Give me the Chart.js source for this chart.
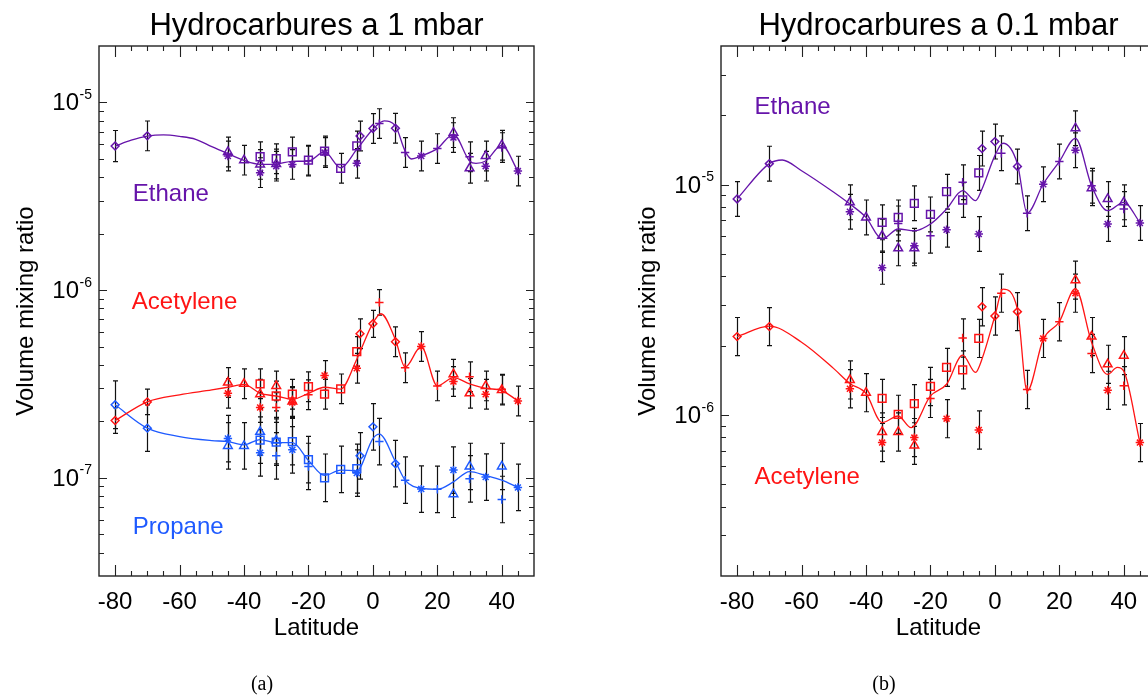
<!DOCTYPE html>
<html><head><meta charset="utf-8">
<script src="https://cdn.jsdelivr.net/npm/chart.js@4.4.0/dist/chart.umd.min.js"></script>
<style>
html,body{margin:0;padding:0;overflow:hidden;background:#fff;width:1148px;height:696px;position:relative;}
.panel{position:absolute;top:0;width:633px;height:696px;}
.cap{position:absolute;font-family:'Liberation Serif','DejaVu Serif',serif;font-size:20px;color:#000;transform:translateX(-50%);top:672px;}
</style></head><body>
<div class="panel" style="left:0"><canvas id="c1" width="633" height="696"></canvas></div>
<div class="panel" style="left:622px"><canvas id="c2" width="633" height="696"></canvas></div>
<div class="cap" style="left:262px">(a)</div>
<div class="cap" style="left:884px">(b)</div>
<script>
// ---------- DATA ----------
const xTickValues = [-80, -60, -40, -20, 0, 20, 40];

// Panel (a): 1 mbar
const latEthane1 = [-80,-70,-45,-45,-40,-35,-35,-35,-30,-30,-30,-25,-25,-20,-20,-15,-15,-10,-5,-5,-4,0,2,7,10,15,20,25,25,30,30,35,35,40,40,45];
const valEthane1 = [5.86e-6,6.64e-6,5.45e-6,5.19e-6,4.93e-6,5.14e-6,4.68e-6,4.23e-6,5.02e-6,4.70e-6,4.58e-6,5.45e-6,4.68e-6,4.93e-6,4.88e-6,5.51e-6,5.41e-6,4.46e-6,5.87e-6,4.74e-6,6.63e-6,7.27e-6,7.72e-6,7.29e-6,5.41e-6,5.19e-6,5.68e-6,6.91e-6,6.50e-6,4.46e-6,5.14e-6,5.19e-6,4.58e-6,5.92e-6,5.75e-6,4.31e-6];
const errEthane1 = [0.21,0.2,0.2,0.2,0.2,0.2,0.2,0.2,0.2,0.2,0.2,0.2,0.2,0.2,0.2,0.2,0.2,0.2,0.2,0.2,0.2,0.2,0.2,0.2,0.2,0.2,0.2,0.2,0.2,0.2,0.2,0.2,0.2,0.2,0.2,0.2];
const symEthane1 = ['d','d','t','a','t','s','t','a','s','t','a','s','a','s','p','s','a','s','s','a','d','d','p','d','p','a','p','t','a','t','p','t','a','t','p','a'];
const curveLatEthane1 = [-80,-75,-70,-65,-60,-55,-50,-45,-40,-35,-30,-25,-20,-15,-10,-5,0,3.5,7,10,12,15,20,25,30,32,35,40,45];
const curveValEthane1 = [5.86e-6,6.3e-6,6.62e-6,6.72e-6,6.6e-6,6.37e-6,5.82e-6,5.34e-6,4.91e-6,4.68e-6,4.70e-6,4.86e-6,4.88e-6,5.45e-6,4.49e-6,5.63e-6,7.2e-6,7.98e-6,7.5e-6,5.51e-6,5.0e-6,5.19e-6,5.68e-6,6.77e-6,4.88e-6,4.74e-6,4.88e-6,5.91e-6,4.31e-6];

const latAcet1 = [-80,-70,-45,-45,-40,-35,-35,-35,-30,-30,-30,-25,-25,-25,-20,-20,-15,-15,-10,-5,-5,-4,0,2,7,10,15,20,25,25,30,30,35,35,40,40,45];
const valAcet1 = [2.02e-7,2.54e-7,3.22e-7,2.82e-7,3.17e-7,3.17e-7,2.79e-7,2.37e-7,3.09e-7,2.73e-7,2.37e-7,2.79e-7,2.55e-7,2.52e-7,3.06e-7,2.77e-7,3.51e-7,2.79e-7,2.98e-7,3.84e-7,4.71e-7,5.86e-7,6.62e-7,8.61e-7,5.31e-7,3.86e-7,5.01e-7,3.09e-7,3.57e-7,3.26e-7,3.46e-7,2.82e-7,3.09e-7,2.79e-7,2.94e-7,2.97e-7,2.57e-7];
const errAcet1 = [0.17,0.17,0.2,0.2,0.2,0.2,0.2,0.2,0.2,0.2,0.2,0.2,0.2,0.2,0.2,0.2,0.2,0.2,0.2,0.2,0.2,0.2,0.18,0.17,0.2,0.2,0.2,0.2,0.2,0.2,0.2,0.2,0.2,0.2,0.2,0.2,0.2];
const symAcet1 = ['d','d','t','a','t','s','t','a','t','s','p','s','t','a','s','p','a','s','s','a','s','d','d','p','d','p','a','p','t','a','p','t','t','a','t','p','a'];
const curveLatAcet1 = [-80,-70,-60,-50,-45,-40,-35,-30,-25,-20,-15,-10,-5,0,2.5,7,10,15,20,25,30,35,40,45];
const curveValAcet1 = [2.02e-7,2.54e-7,2.77e-7,2.94e-7,3.04e-7,3.15e-7,2.82e-7,2.73e-7,2.62e-7,2.82e-7,3.04e-7,2.97e-7,4.29e-7,6.68e-7,7.49e-7,5.44e-7,3.89e-7,5.01e-7,3.09e-7,3.42e-7,3.17e-7,3.0e-7,2.92e-7,2.57e-7];

const latProp1 = [-80,-70,-45,-45,-40,-35,-35,-35,-30,-30,-30,-25,-25,-20,-20,-15,-10,-5,-5,-4,0,2,7,10,15,20,25,25,30,30,35,40,40,45];
const valProp1 = [2.45e-7,1.84e-7,1.62e-7,1.48e-7,1.48e-7,1.76e-7,1.59e-7,1.36e-7,1.58e-7,1.55e-7,1.31e-7,1.56e-7,1.41e-7,1.25e-7,1.15e-7,1.00e-7,1.11e-7,1.12e-7,1.06e-7,1.31e-7,1.87e-7,1.56e-7,1.19e-7,9.72e-8,8.71e-8,8.69e-8,1.10e-7,8.18e-8,1.15e-7,9.88e-8,1.01e-7,1.15e-7,7.67e-8,8.89e-8];
const errProp1 = [0.34,0.33,0.33,0.33,0.33,0.33,0.33,0.33,0.33,0.33,0.33,0.33,0.33,0.33,0.33,0.34,0.33,0.35,0.33,0.33,0.33,0.33,0.33,0.33,0.33,0.33,0.33,0.33,0.33,0.33,0.33,0.33,0.33,0.33];
const symProp1 = ['d','d','a','t','t','t','s','a','t','s','p','s','a','s','p','s','s','s','a','d','d','p','d','p','a','p','a','t','t','p','a','t','p','a'];
const curveLatProp1 = [-80,-70,-60,-50,-45,-40,-35,-30,-25,-20,-15,-10,-5,0,2,7,10,15,20,25,30,35,40,45];
const curveValProp1 = [2.45e-7,1.84e-7,1.66e-7,1.58e-7,1.56e-7,1.50e-7,1.60e-7,1.54e-7,1.54e-7,1.24e-7,1.03e-7,1.10e-7,1.09e-7,1.62e-7,1.71e-7,1.22e-7,9.72e-8,8.78e-8,8.69e-8,9.52e-8,1.08e-7,1.03e-7,9.72e-8,8.89e-8];

// Panel (b): 0.1 mbar
const latEthane2 = [-80,-70,-45,-45,-40,-35,-35,-35,-30,-30,-30,-25,-25,-25,-20,-20,-15,-15,-10,-10,-5,-5,-4,0,2,7,10,15,20,25,25,30,30,35,35,40,40,45];
const valEthane2 = [8.67e-6,1.234e-5,8.38e-6,7.63e-6,7.21e-6,6.86e-6,6.00e-6,4.36e-6,7.21e-6,6.79e-6,5.29e-6,8.30e-6,5.43e-6,5.29e-6,7.43e-6,6.00e-6,9.32e-6,6.37e-6,8.58e-6,1.024e-5,1.125e-5,6.11e-6,1.434e-5,1.538e-5,1.37e-5,1.20e-5,7.51e-6,1.004e-5,1.26e-5,1.758e-5,1.41e-5,9.65e-6,9.9e-6,8.67e-6,6.75e-6,8.38e-6,7.84e-6,6.82e-6];
const errEthane2 = [0.19,0.19,0.19,0.19,0.19,0.19,0.18,0.18,0.19,0.19,0.19,0.19,0.19,0.19,0.19,0.19,0.19,0.19,0.19,0.19,0.19,0.19,0.19,0.19,0.19,0.19,0.19,0.19,0.19,0.19,0.19,0.19,0.19,0.19,0.19,0.19,0.19,0.19];
const symEthane2 = ['d','d','t','a','t','s','t','a','s','p','t','s','a','t','s','p','s','a','s','p','s','a','d','d','p','d','p','a','p','t','a','t','p','t','a','t','p','a'];
const curveLatEthane2 = [-80,-70,-66,-60,-50,-45,-40,-35,-30,-25,-20,-15,-10,-6,-4,0,2.5,7,10,15,20,25,30,35,40,45];
const curveValEthane2 = [8.67e-6,1.234e-5,1.28e-5,1.15e-5,9.27e-6,8.24e-6,7.21e-6,5.81e-6,6.42e-6,6.31e-6,6.75e-6,7.84e-6,9.42e-6,8.52e-6,9.58e-6,1.337e-5,1.513e-5,1.23e-5,7.53e-6,1.007e-5,1.26e-5,1.59e-5,9.9e-6,7.71e-6,8.38e-6,6.86e-6];

const latAcet2 = [-80,-70,-45,-45,-40,-35,-35,-35,-30,-30,-25,-25,-25,-20,-20,-15,-15,-10,-10,-5,-5,-4,0,2,7,10,15,20,25,25,30,30,35,35,40,40,45];
const valAcet2 = [2.19e-6,2.42e-6,1.42e-6,1.30e-6,1.25e-6,1.18e-6,8.44e-7,7.59e-7,1.007e-6,8.44e-7,1.12e-6,7.98e-7,7.38e-7,1.33e-6,1.18e-6,1.61e-6,9.64e-7,1.57e-6,2.16e-6,2.15e-6,8.61e-7,2.95e-6,2.69e-6,3.38e-6,2.81e-6,1.29e-6,2.15e-6,2.54e-6,3.85e-6,3.38e-6,2.19e-6,1.85e-6,1.66e-6,1.28e-6,1.81e-6,1.34e-6,7.59e-7];
const errAcet2 = [0.21,0.21,0.21,0.21,0.21,0.21,0.21,0.21,0.21,0.21,0.21,0.21,0.21,0.21,0.21,0.21,0.21,0.21,0.21,0.21,0.21,0.21,0.21,0.21,0.21,0.21,0.21,0.21,0.21,0.21,0.21,0.21,0.21,0.21,0.21,0.21,0.21];
const symAcet2 = ['d','d','t','a','t','s','t','a','s','t','s','a','t','s','p','s','a','s','p','s','a','d','d','p','d','p','a','p','t','a','t','p','t','a','t','p','a'];
const curveLatAcet2 = [-80,-70,-60,-50,-45,-40,-35,-30,-26,-20,-15,-10,-6,-4,0,2.5,7,10,15,20,25,30,35,38,40,45];
const curveValAcet2 = [2.19e-6,2.43e-6,2.07e-6,1.59e-6,1.37e-6,1.24e-6,9.27e-7,9.9e-7,8.81e-7,1.21e-6,1.36e-6,1.82e-6,1.53e-6,1.75e-6,2.69e-6,3.52e-6,2.88e-6,1.27e-6,2.13e-6,2.54e-6,3.54e-6,2.07e-6,1.50e-6,1.61e-6,1.55e-6,7.59e-7];

// ---------- STYLE ----------
const FONT = "'Liberation Sans', Arial, Helvetica, sans-serif";
const PURPLE = 'rgb(102,20,170)';
const RED = 'rgb(255,20,20)';
const BLUE = 'rgb(30,90,255)';
const SYM = {d:'rectRot', t:'triangle', s:'rect', a:'star', p:'cross'};
const RAD = {d:3.9, t:5, s:5.5, a:4.2, p:4.2};

function markers(lat, val, err, sym, color) {
  return {
    type: 'scatter',
    data: lat.map((x, i) => ({x: x, y: val[i]})),
    errors: err,
    pointStyle: sym.map(s => SYM[s]),
    pointRadius: sym.map(s => RAD[s]),
    pointBorderWidth: 1.5,
    borderColor: color,
    backgroundColor: 'rgba(0,0,0,0)',
    showLine: false,
    order: 1
  };
}
function curve(lat, val, color) {
  return {
    type: 'line',
    data: lat.map((x, i) => ({x: x, y: val[i]})),
    borderColor: color,
    borderWidth: 1.3,
    pointRadius: 0,
    cubicInterpolationMode: 'monotone',
    fill: false,
    order: 2
  };
}

const sciPlugin = {
  id: 'sci',
  beforeDatasetsDraw(chart) {
    const ctx = chart.ctx, x = chart.scales.x, y = chart.scales.y;
    ctx.save();
    ctx.strokeStyle = '#111';
    ctx.lineWidth = 1.2;
    chart.data.datasets.forEach(ds => {
      if (!ds.errors) return;
      ds.data.forEach((p, i) => {
        const r = ds.errors[i];
        const px = Math.round(x.getPixelForValue(p.x)) + 0.5;
        const yt = y.getPixelForValue(p.y * (1 + r));
        const yb = y.getPixelForValue(p.y / (1 + r));
        ctx.beginPath();
        ctx.moveTo(px, yt); ctx.lineTo(px, yb);
        ctx.moveTo(px - 2.5, yt); ctx.lineTo(px + 2.5, yt);
        ctx.moveTo(px - 2.5, yb); ctx.lineTo(px + 2.5, yb);
        ctx.stroke();
      });
    });
    ctx.restore();
  },
  afterDraw(chart, args, opts) {
    const ctx = chart.ctx, a = chart.chartArea, x = chart.scales.x, y = chart.scales.y;
    ctx.save();
    // title centred over the plot area
    ctx.fillStyle = '#000';
    ctx.font = '31px ' + FONT;
    ctx.textAlign = 'center'; ctx.textBaseline = 'alphabetic';
    ctx.fillText(opts.title, (a.left + a.right) / 2, 35);
    // frame
    ctx.strokeStyle = '#222';
    ctx.lineWidth = 1.4;
    ctx.strokeRect(a.left, a.top, a.right - a.left, a.bottom - a.top);
    ctx.lineWidth = 1.1;
    ctx.beginPath();
    for (let v = -80; v < 50; v += 5) {
      const px = Math.round(x.getPixelForValue(v)) + 0.5;
      const L = (v % 20 === 0) ? 11 : 5;
      ctx.moveTo(px, a.bottom); ctx.lineTo(px, a.bottom - L);
      ctx.moveTo(px, a.top); ctx.lineTo(px, a.top + L);
    }
    for (let n = -9; n <= -4; n++) {
      for (let m = 1; m <= 9; m++) {
        const v = m * Math.pow(10, n);
        if (v <= y.min * 1.0001 || v >= y.max * 0.9999) continue;
        const py = Math.round(y.getPixelForValue(v)) + 0.5;
        const L = m === 1 ? 8 : 5;
        ctx.moveTo(a.left, py); ctx.lineTo(a.left + L, py);
        ctx.moveTo(a.right, py); ctx.lineTo(a.right - L, py);
      }
    }
    ctx.stroke();
    // y tick labels 10^n
    ctx.fillStyle = '#000';
    for (let n = -9; n <= -4; n++) {
      const v = Math.pow(10, n);
      if (v < y.min || v > y.max) continue;
      const py = y.getPixelForValue(v);
      const sup = '-' + (-n);
      ctx.font = '14px ' + FONT;
      const sw = ctx.measureText(sup).width;
      const xr = a.left - 7;
      ctx.textAlign = 'left'; ctx.textBaseline = 'alphabetic';
      ctx.fillText(sup, xr - sw, py - 3.5);
      ctx.font = '24px ' + FONT;
      ctx.textAlign = 'right';
      ctx.fillText('10', xr - sw - 0.5, py + 8);
    }
    // species labels
    ctx.font = '24px ' + FONT;
    ctx.textAlign = 'left'; ctx.textBaseline = 'alphabetic';
    (opts.labels || []).forEach(l => {
      ctx.fillStyle = l.color;
      ctx.fillText(l.text, x.getPixelForValue(l.lat), y.getPixelForValue(l.val));
    });
    ctx.restore();
  }
};

function makeChart(id, title, yMin, yMax, datasets, labels) {
  return new Chart(document.getElementById(id), {
    type: 'scatter',
    data: {datasets: datasets},
    options: {
      responsive: false,
      animation: false,
      devicePixelRatio: 1,
      layout: {padding: {left: 0, right: 99, top: 46, bottom: 0}},
      plugins: {
        legend: {display: false},
        tooltip: {enabled: false},
        title: {display: false},
        sci: {labels: labels, title: title}
      },
      scales: {
        x: {
          type: 'linear', min: -85, max: 50,
          afterBuildTicks: s => { s.ticks = xTickValues.map(v => ({value: v})); },
          afterFit: s => { s.height = 120; },
          ticks: {color: '#000', font: {family: FONT, size: 24}, padding: 4, maxRotation: 0, autoSkip: false},
          grid: {display: false},
          border: {display: false},
          title: {display: true, text: 'Latitude', color: '#000', font: {family: FONT, size: 24}, padding: {top: 0, bottom: 53}}
        },
        y: {
          type: 'logarithmic', min: yMin, max: yMax,
          afterFit: s => { s.width = 99; },
          ticks: {display: false},
          grid: {display: false},
          border: {display: false},
          title: {display: true, text: 'Volume mixing ratio', color: '#000', font: {family: FONT, size: 24}, padding: {top: 12, bottom: 0}}
        }
      }
    },
    plugins: [sciPlugin]
  });
}

makeChart('c1', 'Hydrocarbures a 1 mbar', 3e-8, 2e-5, [
  curve(curveLatEthane1, curveValEthane1, PURPLE),
  curve(curveLatAcet1, curveValAcet1, RED),
  curve(curveLatProp1, curveValProp1, BLUE),
  markers(latEthane1, valEthane1, errEthane1, symEthane1, PURPLE),
  markers(latAcet1, valAcet1, errAcet1, symAcet1, RED),
  markers(latProp1, valProp1, errProp1, symProp1, BLUE)
], [
  {text: 'Ethane', color: PURPLE, lat: -74.5, val: 2.98e-6},
  {text: 'Acetylene', color: RED, lat: -74.8, val: 7.94e-7},
  {text: 'Propane', color: BLUE, lat: -74.5, val: 5.0e-8}
]);

makeChart('c2', 'Hydrocarbures a 0.1 mbar', 2e-7, 4e-5, [
  curve(curveLatEthane2, curveValEthane2, PURPLE),
  curve(curveLatAcet2, curveValAcet2, RED),
  markers(latEthane2, valEthane2, errEthane2, symEthane2, PURPLE),
  markers(latAcet2, valAcet2, errAcet2, symAcet2, RED)
], [
  {text: 'Ethane', color: PURPLE, lat: -74.6, val: 2.03e-5},
  {text: 'Acetylene', color: RED, lat: -74.6, val: 5.04e-7}
]);
</script>
</body></html>
